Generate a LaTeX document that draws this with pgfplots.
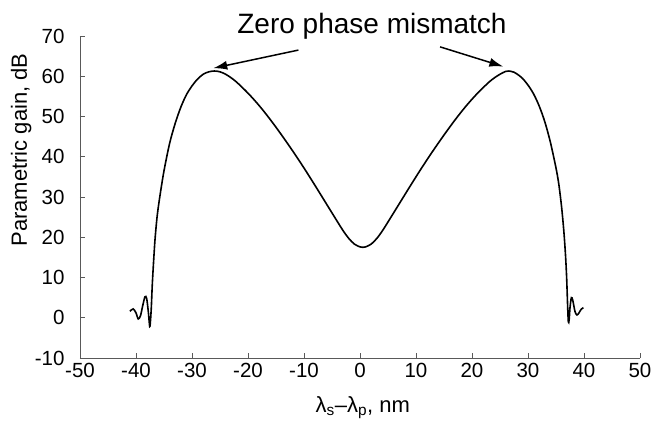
\documentclass[border=0pt]{standalone}
\usepackage{pgfplots}
\pgfplotsset{compat=1.18}
\usepackage{fontspec}
\setmainfont{Liberation Sans}
\usetikzlibrary{arrows.meta}

\begin{document}
\begin{tikzpicture}
\useasboundingbox (0,0) rectangle (654pt,425pt);
\begin{axis}[
    at={(80pt,67pt)}, anchor=south west,
    scale only axis, width=560pt, height=322pt,
    xmin=-50, xmax=50, ymin=-10, ymax=70,
    xtick={-50,-40,...,50}, ytick={-10,0,...,70},
    axis lines*=left,
    axis line style={draw=black!65, line width=0.8pt},
    tick style={draw=black!65, line width=0.8pt},
    tick align=inside, major tick length=5pt,
    /pgf/number format/assume math mode=true,
    ticklabel style={font=\fontsize{20.5}{22}\selectfont},
    yticklabel style={xshift=-12pt},
    xticklabel style={yshift=-2pt},
    ylabel={Parametric gain, dB},
    ylabel style={at={(axis description cs:-0.105,0.646)}, anchor=center, rotate=0,
        font=\fontsize{22}{24}\selectfont},
    xlabel={λ\textsubscript{s}–λ\textsubscript{p}, nm},
    xlabel style={at={(axis description cs:0.505,-0.155)}, anchor=center,
        font=\fontsize{22}{24}\selectfont},
    clip=false,
]
\addplot[black, line width=1.6pt, smooth, tension=0.5] coordinates {
    (-41.1,1.6) (-40.5,2.2) (-40.0,1.2) (-39.6,-0.3) (-39.2,0.5) (-38.8,3.0)
    (-38.4,5.2) (-38.1,4.8) (-37.8,1.5) (-37.55,-2.2) (-37.4,-0.5) (-37.25,3)
    (-37.1,8) (-36.9,13) (-36.6,19.5) (-36.2,25.5) (-35.7,30.5) (-35.0,36.5)
    (-34.0,43.3) (-33.0,48.3) (-32.0,52.3) (-31.0,55.4) (-30.0,57.6) (-29.0,59.3)
    (-28.0,60.5) (-27.0,61.1) (-26.0,61.3) (-25.0,61.1) (-24.0,60.5) (-23.0,59.6)
    (-22.0,58.5) (-20.0,55.8) (-18.0,52.7) (-16.0,49.2) (-14.0,45.4) (-12.0,41.4)
    (-10.0,37.2) (-8.0,32.8) (-6.0,28.3) (-4.0,23.8) (-3.0,21.6) (-2.0,19.7)
    (-1.0,18.3) (0.0,17.6) (0.5,17.5)
    (1.0,17.6) (2.0,18.3) (3.0,19.7) (4.0,21.6) (5.0,23.8) (7.0,28.3)
    (9.0,32.8) (11.0,37.2) (13.0,41.4) (15.0,45.4) (17.0,49.2) (19.0,52.7)
    (21.0,55.8) (23.0,58.5) (24.0,59.6) (25.0,60.5) (26.0,61.2) (26.6,61.3)
    (27.5,61.0) (28.0,60.6) (29.0,59.5)
    (30.0,57.8) (31.0,55.6) (32.0,52.6) (33.0,48.7) (34.0,43.6) (35.0,37.2)
    (35.5,33.2) (36.0,27.5) (36.4,21.5) (36.7,15.5) (36.9,10) (37.05,4)
    (37.2,-1.0) (37.35,-0.5) (37.5,2.5) (37.75,5.0) (38.0,4.3) (38.4,1.5)
    (38.75,0.7) (39.1,1.2) (39.5,2.1) (39.9,2.5)
};
\node[anchor=base, font=\fontsize{28}{30}\selectfont] at (axis cs:2.14,70.7) {Zero phase mismatch};
\draw[line width=1.5pt, -{Latex[length=14pt,width=9pt]}] (axis cs:-11.0,66.5) -- (axis cs:-26.2,62.0);
\draw[line width=1.5pt, -{Latex[length=14pt,width=9pt]}] (axis cs:14.3,67.3) -- (axis cs:25.6,62.4);
\end{axis}
\end{tikzpicture}
\end{document}
